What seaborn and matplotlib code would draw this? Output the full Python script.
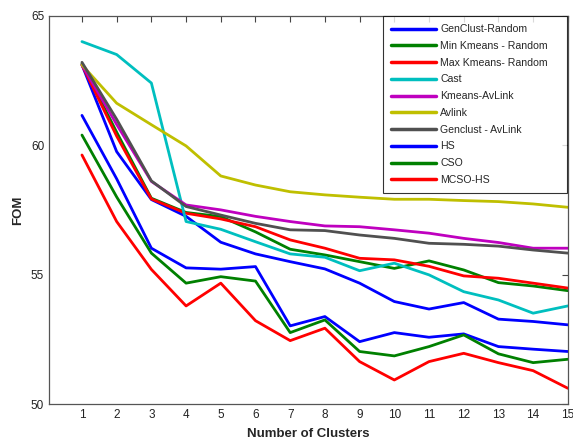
import matplotlib
matplotlib.use("Agg")
import matplotlib.pyplot as plt
import pandas as pd
import seaborn as sns

clusters = list(range(1, 16))

genclust_random = [63.1, 59.75, 57.9, 57.25, 56.25, 55.8, 55.5, 55.22, 54.67, 53.96, 53.67, 53.92, 53.28, 53.19, 53.06]
min_kmeans_random = [63.15, 60.5, 57.95, 57.4, 57.24, 56.65, 55.98, 55.76, 55.5, 55.24, 55.53, 55.18, 54.69, 54.56, 54.38]
max_kmeans_random = [63.1, 60.35, 57.92, 57.37, 57.15, 56.85, 56.34, 56.02, 55.63, 55.57, 55.32, 54.95, 54.86, 54.67, 54.48]
cast = [64.0, 63.5, 62.4, 57.05, 56.75, 56.27, 55.8, 55.67, 55.15, 55.44, 54.99, 54.34, 54.02, 53.51, 53.79]
kmeans_avlink = [63.1, 60.8, 58.6, 57.69, 57.5, 57.25, 57.05, 56.88, 56.85, 56.73, 56.6, 56.4, 56.24, 56.02, 56.02]
avlink = [63.1, 61.62, 60.79, 59.97, 58.81, 58.46, 58.2, 58.08, 57.99, 57.91, 57.91, 57.86, 57.82, 57.73, 57.6]
genclust_avlink = [63.2, 61.0, 58.62, 57.63, 57.3, 56.98, 56.73, 56.7, 56.53, 56.4, 56.21, 56.17, 56.1, 55.95, 55.83]
hs = [61.15, 58.7, 56.02, 55.26, 55.21, 55.31, 53.02, 53.38, 52.41, 52.76, 52.58, 52.71, 52.22, 52.12, 52.03]
cso = [60.39, 58.0, 55.83, 54.67, 54.92, 54.75, 52.76, 53.25, 52.03, 51.86, 52.22, 52.67, 51.94, 51.6, 51.73]
mcso_hs = [59.62, 57.05, 55.2, 53.79, 54.67, 53.22, 52.45, 52.93, 51.64, 50.93, 51.64, 51.96, 51.6, 51.29, 50.61]

methods = ["GenClust-Random", "Min Kmeans - Random", "Max Kmeans- Random", "Cast",
           "Kmeans-AvLink", "Avlink", "Genclust - AvLink", "HS", "CSO", "MCSO-HS"]
series = [genclust_random, min_kmeans_random, max_kmeans_random, cast, kmeans_avlink,
          avlink, genclust_avlink, hs, cso, mcso_hs]
colors = ["#0000ff", "#008000", "#ff0000", "#00bfbf", "#bf00bf",
          "#bfbf00", "#505050", "#0000ff", "#008000", "#ff0000"]

df = pd.DataFrame({
    "k": clusters * len(methods),
    "fom": [v for s in series for v in s],
    "method": [m for m in methods for _ in clusters],
})

sns.set_style("white")
plt.rcParams["font.family"] = ["Liberation Sans", "DejaVu Sans"]

fig = plt.figure(figsize=(5.73, 4.45), dpi=100)
ax = fig.add_axes([0.0855, 0.092, 0.9055, 0.8727])

sns.lineplot(data=df, x="k", y="fom", hue="method", hue_order=methods,
             palette=dict(zip(methods, colors)), linewidth=2.0, ax=ax)

ax.set_xlim(0.05, 15)
ax.set_ylim(50, 65)
ax.set_xticks(clusters)
ax.set_yticks([50, 55, 60, 65])
ax.tick_params(direction="in", length=4, width=0.8, colors="#444444",
               labelcolor="#222222", labelsize=8.5, top=True, right=True)
for sp in ax.spines.values():
    sp.set_color("#555555")
    sp.set_linewidth(0.9)

ax.set_xlabel("Number of Clusters", fontsize=9.5, fontweight="bold", labelpad=5)
ax.set_ylabel("FOM", fontsize=9.5, fontweight="bold", labelpad=5)

# matlab-style legend box: wider than its contents, flush with the top right
leg = ax.legend(loc="upper right", bbox_to_anchor=(0.6445, 0.0, 0.3535, 0.9985),
                mode="expand", borderaxespad=0.0, fontsize=7.6, frameon=True,
                fancybox=False, handlelength=4.25, handletextpad=0.38,
                labelspacing=0.64, borderpad=0.75)
leg.get_frame().set_edgecolor("#000000")
leg.get_frame().set_linewidth(0.8)
for line in leg.get_lines():
    line.set_linewidth(2.5)

fig.savefig("out.png", dpi=100)
